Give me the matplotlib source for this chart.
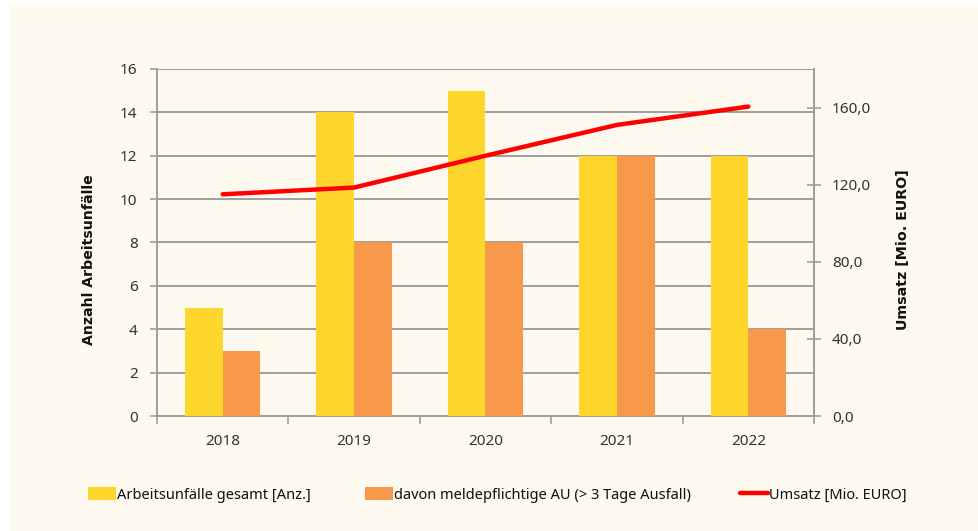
import matplotlib
matplotlib.use("Agg")
import matplotlib.pyplot as plt
import numpy as np
from matplotlib.patches import Rectangle, Patch
from matplotlib.lines import Line2D
from matplotlib.ticker import FuncFormatter, FixedLocator

years = ['2018', '2019', '2020', '2021', '2022']
unfaelle_gesamt = [5, 14, 15, 12, 12]
meldepflichtig = [3, 8, 8, 12, 4]
umsatz = [115, 118.5, 135, 151, 160.5]

left_ticks = [0, 2, 4, 6, 8, 10, 12, 14, 16]
right_ticks = [0, 40, 80, 120, 160]

legend_labels = ['Arbeitsunfälle gesamt [Anz.]',
                 'davon meldepflichtige AU (> 3 Tage Ausfall)',
                 'Umsatz [Mio. EURO]']

CREAM = '#FEF9EE'
YELLOW = '#FFD62B'
ORANGE = '#F7984A'
RED = '#FF0000'
GRID = '#9E9E9E'
TXT = '#333333'

tick_font = ['Noto Sans', 'DejaVu Sans']
bold_font = ['DejaVu Sans']
leg_font = ['Noto Sans', 'DejaVu Sans']
plt.rcParams['font.family'] = tick_font

fig = plt.figure(figsize=(9.79, 5.31), dpi=100, facecolor='white')
fig.patches.append(Rectangle((10 / 979, 0), 1 - 10 / 979, 1 - 5 / 531,
                             transform=fig.transFigure, facecolor=CREAM,
                             edgecolor='none', zorder=-10))

ax = fig.add_axes([157 / 979, 1 - 416 / 531, (814 - 157) / 979, (416 - 69) / 531])
ax.set_facecolor(CREAM)

x = np.arange(len(years))
w = 0.287
ax.bar(x - w / 2, unfaelle_gesamt, width=w, color=YELLOW, zorder=3)
ax.bar(x + w / 2, meldepflichtig, width=w, color=ORANGE, zorder=3)

ax.set_xlim(-0.5, len(years) - 0.5)
ax.set_ylim(0, 16)
ax.set_yticks(left_ticks)
ax.set_yticklabels([str(t) for t in left_ticks])
ax.yaxis.grid(True, color=GRID, linewidth=1.4, zorder=0)
ax.set_axisbelow(True)

ax.set_xticks(x)
ax.set_xticklabels(years)
ax.xaxis.set_minor_locator(FixedLocator(np.arange(-0.5, len(years), 1.0)))
ax.tick_params(axis='x', which='major', length=0, pad=13, labelsize=11, labelcolor=TXT)
ax.tick_params(axis='x', which='minor', length=6, width=1.2, color=GRID, direction='out')
ax.tick_params(axis='y', which='major', length=5, width=1.2, color=GRID, pad=9,
               labelsize=11, labelcolor=TXT)

for s in ['top']:
    ax.spines[s].set_visible(False)
for s in ['left', 'bottom', 'right']:
    ax.spines[s].set_color(GRID)
    ax.spines[s].set_linewidth(1.4)

ax2 = ax.twinx()
ax2.plot(x, umsatz, color=RED, linewidth=3.2, solid_capstyle='round',
         solid_joinstyle='round', zorder=5)
ax2.set_ylim(0, 180)
ax2.set_yticks(right_ticks)
ax2.yaxis.set_major_formatter(FuncFormatter(lambda v, p: f"{v:.1f}".replace('.', ',')))
ax2.tick_params(axis='y', length=10, width=1.2, color=GRID, direction='inout', pad=8,
                labelsize=11, labelcolor=TXT)
for s in ['top', 'left', 'bottom']:
    ax2.spines[s].set_visible(False)
ax2.spines['right'].set_color(GRID)
ax2.spines['right'].set_linewidth(1.4)

fig.text(89 / 979, 1 - 260 / 531, 'Anzahl Arbeitsunfälle', rotation=90,
         ha='center', va='center', fontsize=10.2, fontweight='bold', color='#111111',
         family=bold_font)
fig.text(903 / 979, 1 - 250 / 531, 'Umsatz [Mio. EURO]', rotation=90,
         ha='center', va='center', fontsize=10.3, fontweight='bold', color='#111111',
         family=bold_font)

handles = [Patch(facecolor=YELLOW, edgecolor='none'),
           Patch(facecolor=ORANGE, edgecolor='none'),
           Line2D([0], [0], color=RED, linewidth=3.2, solid_capstyle='round')]
xpos = [88, 365, 740]
for h, lab, xp in zip(handles, legend_labels, xpos):
    leg = fig.legend([h], [lab], loc='center left',
                     bbox_to_anchor=(xp / 979, 1 - 495 / 531),
                     frameon=False, handlelength=1.9, handleheight=1.0,
                     handletextpad=0.12, borderpad=0, borderaxespad=0,
                     prop={'family': leg_font, 'size': 10.5})
    for t in leg.get_texts():
        t.set_color('#111111')

fig.savefig('out.png', dpi=100, facecolor='white')
